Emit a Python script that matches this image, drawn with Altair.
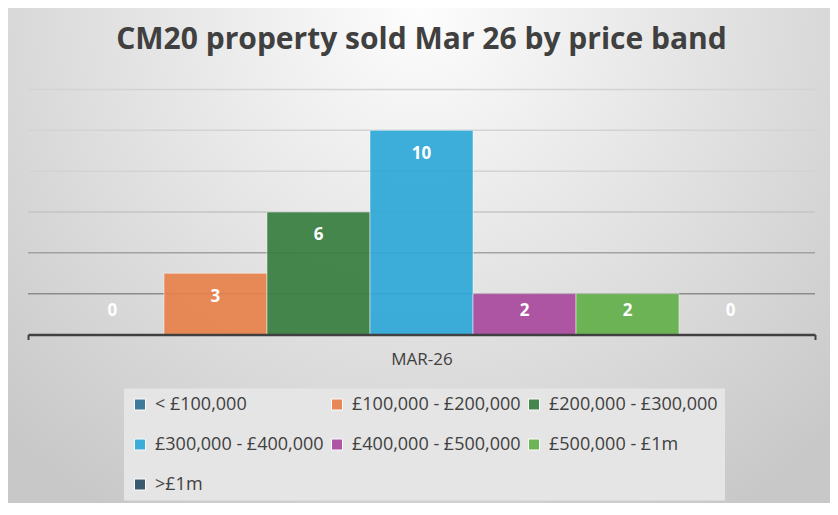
import altair as alt
import pandas as pd

months = ["MAR-26"]
bands = ["< £100,000", "£100,000 - £200,000", "£200,000 - £300,000",
         "£300,000 - £400,000", "£400,000 - £500,000", "£500,000 - £1m", ">£1m"]
counts = [0, 3, 6, 10, 2, 2, 0]
colors = ["#2E7395", "#E8824B", "#377E3F", "#2EA8D8", "#A94A9E", "#63B04A", "#2C4F64"]
grid_values = [2, 4, 6, 8, 10, 12]
y_max = 12
title_text = "CM20 property sold Mar 26 by price band"

df = pd.DataFrame({"month": months * len(bands), "band": bands, "count": counts})
grid_df = pd.DataFrame({"v": grid_values})

W, H = 787, 245
PAD = {"left": 20, "top": 81.5, "right": 15, "bottom": 168.5}
FONT = "Open Sans"
TXT = "#404040"

y_scale = alt.Scale(domain=[0, y_max], nice=False, zero=True)

bg = alt.Chart(pd.DataFrame({"k": [0]})).mark_rect(
    fill=alt.RadialGradient(
        gradient="radial", x1=0.5, y1=0.2, r1=0, x2=0.5, y2=0.2, r2=0.72,
        stops=[alt.GradientStop(offset=0, color="#fdfdfd"),
               alt.GradientStop(offset=1, color="#c8c8c8")]),
    strokeWidth=0,
).encode(
    x=alt.value(-PAD["left"]), x2=alt.value(W + PAD["right"]),
    y=alt.value(-PAD["top"]), y2=alt.value(H + PAD["bottom"]),
)

grid = alt.Chart(grid_df).mark_rule(strokeWidth=1.5).encode(
    y=alt.Y("v:Q", scale=y_scale, axis=None),
    color=alt.when(alt.datum.v <= 2).then(alt.value("#8c8c8c"))
             .when(alt.datum.v <= 4).then(alt.value("#a2a2a2"))
             .when(alt.datum.v <= 6).then(alt.value("#c4c4c4"))
             .otherwise(alt.value("#d3d3d3")),
)

x_enc = alt.X("month:N", title=None,
              scale=alt.Scale(paddingInner=0, paddingOuter=0),
              axis=alt.Axis(labelFont=FONT, labelFontSize=17, labelColor=TXT,
                            labelAngle=0, labelPadding=12,
                            domainColor=TXT, domainWidth=2.5,
                            ticks=True, tickBand="extent", tickSize=5,
                            tickColor=TXT, tickWidth=2, grid=False, zindex=1))
xo_enc = alt.XOffset("band:N", sort=bands,
                     scale=alt.Scale(paddingOuter=0.32, paddingInner=0))

bars = alt.Chart(df).mark_bar(opacity=0.92, stroke="white", strokeWidth=1,
                              strokeOpacity=0.5).encode(
    x=x_enc,
    xOffset=xo_enc,
    y=alt.Y("count:Q", scale=y_scale, axis=None),
    color=alt.Color("band:N", sort=bands,
                    scale=alt.Scale(domain=bands, range=colors),
                    legend=alt.Legend(title=None, orient="none", legendX=96, legendY=299,
                                      columns=3, direction="horizontal",
                                      symbolType="square", symbolSize=121,
                                      symbolStrokeColor="white", symbolStrokeWidth=1,
                                      labelFont=FONT, labelFontSize=18, labelColor=TXT,
                                      labelOffset=6, columnPadding=4, rowPadding=22,
                                      padding=7, fillColor="#e5e5e5", labelLimit=300)),
)

labels = alt.Chart(df).transform_calculate(
    lab="max(datum.count - 1.15, 1.13)"
).mark_text(color="white", font=FONT, fontSize=17, fontWeight="bold",
            baseline="middle").encode(
    x=x_enc,
    xOffset=xo_enc,
    y=alt.Y("lab:Q", scale=y_scale, axis=None),
    text="count:Q",
)

chart = alt.layer(bg, grid, bars, labels).properties(
    width=W, height=H,
    autosize=alt.AutoSizeParams(type="none"),
    padding=PAD,
    title=alt.TitleParams(text=title_text, font=FONT, fontSize=30, fontWeight="bold",
                          color=TXT, anchor="middle", frame="group",
                          baseline="alphabetic", offset=-70.8),
).configure(background="#d8d8d8").configure_view(strokeWidth=0)

chart.save("out.html", embed_options={"renderer": "svg", "actions": False})
